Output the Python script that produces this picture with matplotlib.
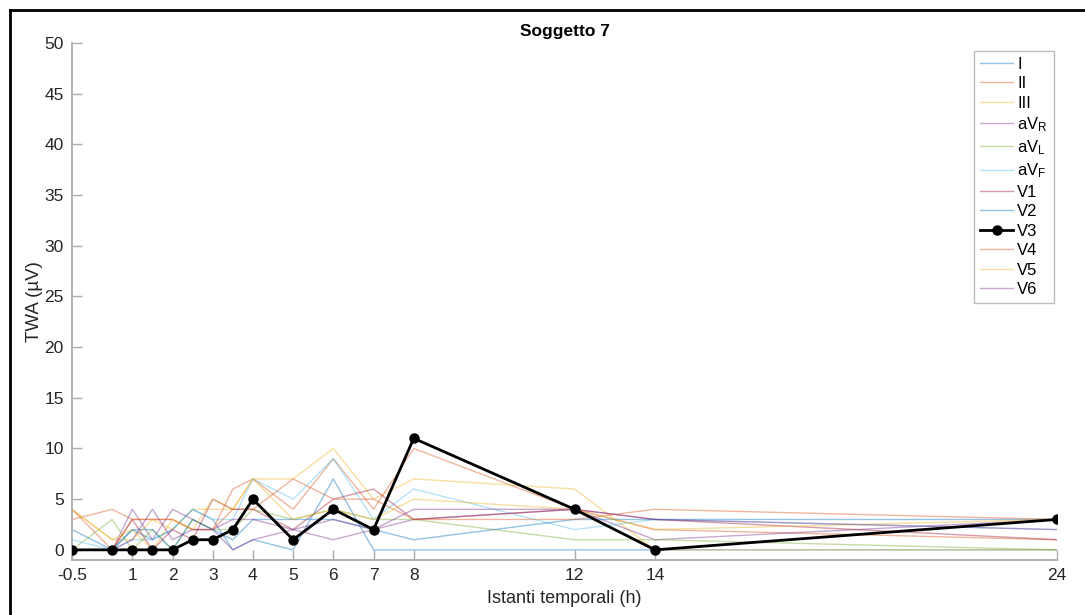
import matplotlib
matplotlib.use("Agg")
import matplotlib.pyplot as plt
from matplotlib.lines import Line2D

plt.rcParams['font.family'] = ['Liberation Sans', 'DejaVu Sans']
plt.rcParams['mathtext.default'] = 'regular'

x = [-0.5, 0.5, 1, 1.5, 2, 2.5, 3, 3.5, 4, 5, 6, 7, 8, 12, 14, 24]
tick_pos = [-0.5, 1, 2, 3, 4, 5, 6, 7, 8, 12, 14, 24]
tick_labels = ['-0.5', '1', '2', '3', '4', '5', '6', '7', '8', '12', '14', '24']

lead_names = ['I', 'II', 'III', 'aV$_R$', 'aV$_L$', 'aV$_F$', 'V1', 'V2', 'V3', 'V4', 'V5', 'V6']

I_vals   = [2, 0, 2, 1, 2, 4, 3, 0, 1, 0, 7, 0, 0, 0, 0, 0]
II_vals  = [3, 4, 3, 3, 3, 2, 2, 6, 7, 4, 9, 4, 10, 4, 2, 1]
III_vals = [4, 1, 1, 3, 2, 4, 4, 4, 7, 7, 10, 5, 7, 6, 0, 0]
aVR_vals = [0, 0, 4, 1, 4, 3, 2, 0, 1, 2, 1, 2, 3, 4, 1, 3]
aVL_vals = [0, 3, 0, 2, 0, 3, 2, 2, 4, 3, 4, 3, 3, 1, 1, 0]
aVF_vals = [1, 0, 1, 1, 2, 4, 3, 3, 7, 5, 9, 3, 6, 2, 3, 2]
V1_vals  = [0, 0, 3, 0, 2, 1, 5, 4, 4, 2, 5, 6, 3, 4, 3, 1]
V2_vals  = [0, 0, 2, 2, 0, 3, 2, 1, 3, 3, 3, 2, 1, 3, 3, 3]
V3_vals  = [0, 0, 0, 0, 0, 1, 1, 2, 5, 1, 4, 2, 11, 4, 0, 3]
V4_vals  = [4, 0, 3, 3, 3, 2, 2, 4, 4, 7, 5, 5, 3, 3, 4, 3]
V5_vals  = [4, 1, 2, 0, 3, 2, 5, 4, 7, 3, 4, 3, 5, 4, 2, 3]
V6_vals  = [0, 0, 1, 4, 1, 2, 2, 3, 3, 2, 3, 2, 4, 4, 3, 2]

series = [I_vals, II_vals, III_vals, aVR_vals, aVL_vals, aVF_vals,
          V1_vals, V2_vals, V3_vals, V4_vals, V5_vals, V6_vals]

mblue = (0, 0.447, 0.741)
morange = (0.85, 0.325, 0.098)
myellow = (0.929, 0.694, 0.125)
mpurple = (0.494, 0.184, 0.556)
mgreen = (0.466, 0.674, 0.188)
mlblue = (0.301, 0.745, 0.933)
mred = (0.635, 0.078, 0.184)
colors = [mblue, morange, myellow, mpurple, mgreen, mlblue, mred,
          mblue, 'black', morange, myellow, mpurple]

fig = plt.figure(figsize=(10.85, 6.15), dpi=100)
ax = fig.add_axes([72/1085, 55/615, (1057-72)/1085, (560-43)/615])

handles = []
for name, vals, c in zip(lead_names, series, colors):
    if name == 'V3':
        h, = ax.plot(x, vals, color='black', lw=2, marker='o', ms=6.5, zorder=5, label=name)
    else:
        h, = ax.plot(x, vals, color=c, lw=1, alpha=0.42, label=name)
    handles.append(h)

ax.set_xlim(-0.5, 24)
ax.set_ylim(-1, 50)
ax.set_xticks(tick_pos)
ax.set_xticklabels(tick_labels)
ax.set_yticks(range(0, 51, 5))

gray = (0.68, 0.68, 0.68)
txt = (0.15, 0.15, 0.15)
for s in ['top', 'right']:
    ax.spines[s].set_visible(False)
for s in ['left', 'bottom']:
    ax.spines[s].set_color(gray)
    ax.spines[s].set_linewidth(1.3)
ax.tick_params(direction='in', length=7, width=1, color=gray, labelsize=12.5,
               labelcolor=txt, pad=6)

ax.set_title('Soggetto 7', fontsize=12.5, fontweight='bold', pad=5)
ax.set_xlabel('Istanti temporali (h)', fontsize=13, color=txt, labelpad=5)
ax.set_ylabel('TWA (µV)', fontsize=13.5, color=txt, labelpad=1)

leg = ax.legend(handles=handles, loc='upper right', bbox_to_anchor=(0.9965, 0.985),
                fontsize=12, frameon=True, fancybox=False, handlelength=2.0,
                handletextpad=0.25, borderpad=0.35, labelspacing=0.27, borderaxespad=0)
leg.get_frame().set_edgecolor(gray)
leg.get_frame().set_linewidth(1)

# screenshot frame on left and top
fig.add_artist(Line2D([9.5/1085, 9.5/1085], [0, 1 - 10/615], transform=fig.transFigure,
                      color='black', lw=2))
fig.add_artist(Line2D([9.5/1085, 1], [1 - 10/615, 1 - 10/615], transform=fig.transFigure,
                      color='black', lw=2))

fig.savefig('out.png', dpi=100)
